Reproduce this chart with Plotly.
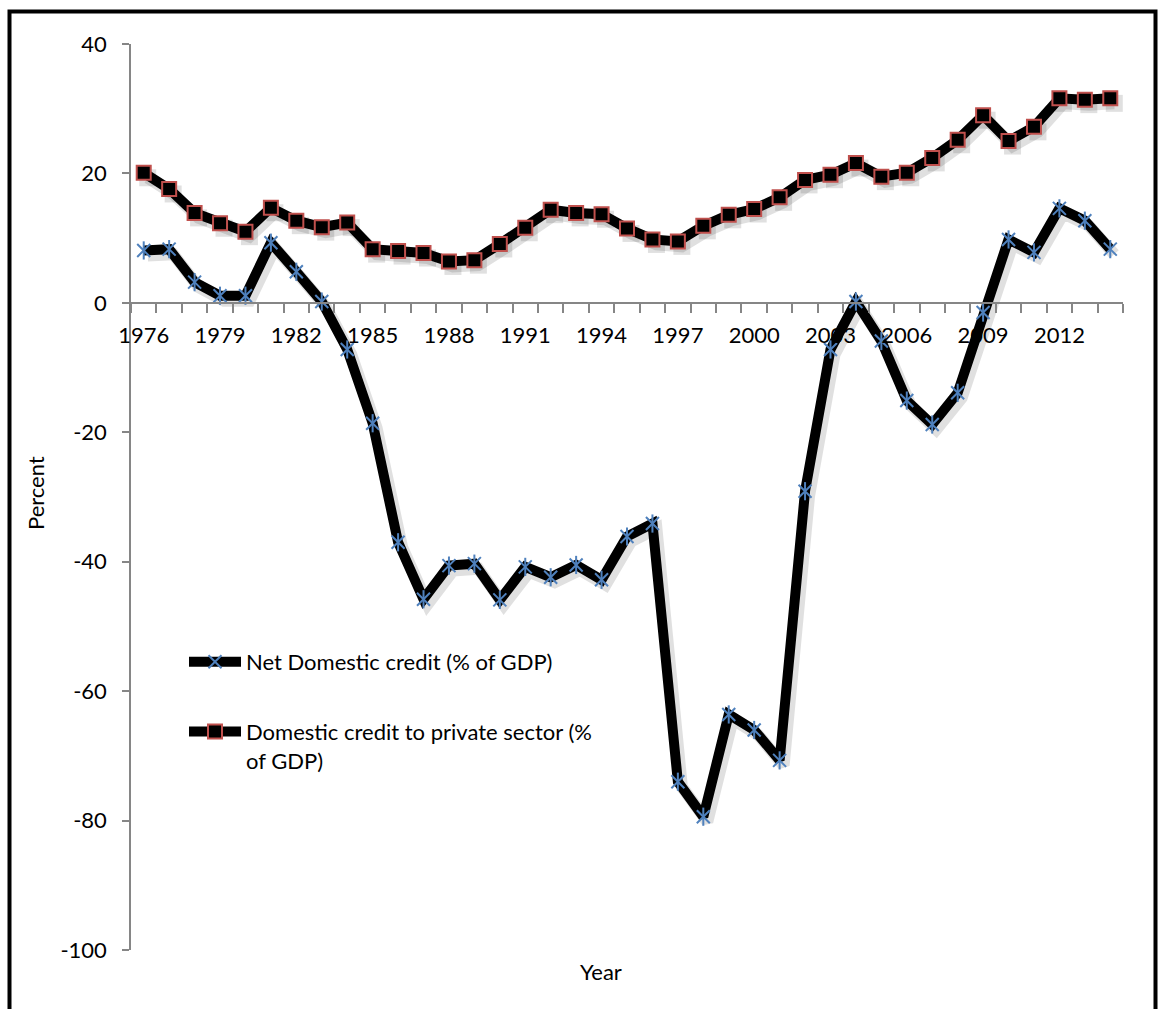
import plotly.graph_objects as go

years = list(range(1976, 2015))
net_domestic_credit = [8.1, 8.3, 3.2, 1.1, 1.1, 9.3, 4.8, 0.2, -7.2, -18.6,
                       -37.0, -45.8, -40.6, -40.3, -45.9, -40.8, -42.4, -40.5, -42.8, -36.1,
                       -34.1, -74.0, -79.4, -63.6, -66.0, -70.7, -29.1, -7.2, 0.2, -5.9,
                       -15.1, -18.8, -13.9, -1.5, 9.8, 7.8, 14.6, 12.7, 8.3]
private_credit = [20.1, 17.6, 13.9, 12.3, 11.0, 14.7, 12.7, 11.7, 12.4, 8.3,
                  8.0, 7.7, 6.4, 6.6, 9.1, 11.6, 14.4, 13.9, 13.7, 11.5,
                  9.8, 9.5, 11.9, 13.6, 14.5, 16.3, 19.0, 19.8, 21.6, 19.5,
                  20.1, 22.4, 25.2, 29.0, 25.0, 27.2, 31.6, 31.4, 31.6]
label_years = list(range(1976, 2013, 3))
y_ticks = [40, 20, 0, -20, -40, -60, -80, -100]
y_ticktext = ["40", "20", "0", "-20", "-40", "-60", "-80", "-100"]

FONT = "Lato"
GRAY = "#868686"
BLUE = "#4F81BD"
RED = "#C0504D"
SHADOW = "rgba(0,0,0,0.12)"

# body margin is removed in the page, so the figure sits at (0, 0)
OFF = 0
W, H = 1158 - OFF, 1009 - OFF
L = 131 - OFF
T = 44 - OFF
PLOT_RIGHT = 1123 - OFF
PLOT_BOTTOM = 950 - OFF
R = W - PLOT_RIGHT
B = H - PLOT_BOTTOM
pw = W - L - R
ph = H - T - B

X_RANGE = [1975.5, 2014.5]
Y_RANGE = [-100, 40]


def px_x(px):
    return (px - OFF - L) / pw


def px_y(py):
    return (PLOT_BOTTOM - (py - OFF)) / ph


# shadow offset (pixels) expressed in data units
sdx = 4 * (X_RANGE[1] - X_RANGE[0]) / pw
sdy = 5 * (Y_RANGE[1] - Y_RANGE[0]) / ph

fig = go.Figure()

# shadows (base axes, shifted range)
for series in (net_domestic_credit, private_credit):
    fig.add_trace(go.Scatter(
        x=years, y=series, showlegend=False, hoverinfo="skip", mode="lines",
        line=dict(color=SHADOW, width=12), xaxis="x", yaxis="y"))
fig.add_trace(go.Scatter(
    x=years, y=private_credit, showlegend=False, hoverinfo="skip", mode="markers",
    marker=dict(symbol="square", size=17, color=SHADOW, line=dict(width=0)), xaxis="x", yaxis="y"))

fig.add_trace(go.Scatter(
    x=years, y=net_domestic_credit, name="Net Domestic credit (% of GDP)",
    mode="lines+markers", legendgroup="a",
    line=dict(color="black", width=10),
    marker=dict(symbol="x-thin-open", size=13, color=BLUE, line=dict(color=BLUE, width=2)),
    xaxis="x2", yaxis="y2",
))
fig.add_trace(go.Scatter(
    x=years, y=net_domestic_credit, showlegend=False, hoverinfo="skip",
    mode="markers", legendgroup="a",
    marker=dict(symbol="line-ns-open", size=13, color=BLUE, line=dict(color=BLUE, width=2)),
    xaxis="x2", yaxis="y2",
))
fig.add_trace(go.Scatter(
    x=years, y=private_credit, name="Domestic credit to private sector (%<br>of GDP)",
    mode="lines+markers", legendgroup="b",
    line=dict(color="black", width=10),
    marker=dict(symbol="square", size=14, color="black", line=dict(color=RED, width=2)),
    xaxis="x2", yaxis="y2",
))

fig.update_layout(
    width=W, height=H,
    margin=dict(l=L, r=R, t=T, b=B),
    paper_bgcolor="white", plot_bgcolor="white",
    font=dict(family=FONT, size=22, color="black"),
    showlegend=True,
    legend=dict(x=px_x(184), y=px_y(641), xanchor="left", yanchor="top",
                bgcolor="rgba(0,0,0,0)", traceorder="grouped", valign="top",
                itemwidth=52,
                font=dict(family=FONT, size=22), tracegroupgap=38),
    xaxis=dict(range=[X_RANGE[0] - sdx, X_RANGE[1] - sdx], visible=False, showgrid=False, zeroline=False),
    yaxis=dict(range=[Y_RANGE[0] + sdy, Y_RANGE[1] + sdy], visible=False, showgrid=False, zeroline=False),
    xaxis2=dict(range=X_RANGE, overlaying="x", tickvals=label_years,
                ticktext=[str(y) for y in label_years],
                ticks="", showgrid=False, zeroline=False,
                showline=True, linecolor=GRAY, linewidth=1.5,
                anchor="free", position=(0 - Y_RANGE[0]) / (Y_RANGE[1] - Y_RANGE[0]),
                ticklabelstandoff=13,
                minor=dict(tick0=1975.5, dtick=1, ticks="outside", ticklen=9,
                           tickcolor=GRAY, tickwidth=1.5)),
    yaxis2=dict(range=Y_RANGE, overlaying="y", side="left", anchor="x2",
                tickvals=y_ticks, ticktext=y_ticktext,
                showgrid=False, zeroline=False,
                showline=True, linecolor=GRAY, linewidth=1.5,
                ticks="outside", ticklen=7, tickcolor=GRAY, tickwidth=1.5,
                ticklabelstandoff=11),
    shapes=[dict(type="rect", xref="paper", yref="paper",
                 x0=px_x(9.5), x1=px_x(1155.5), y0=px_y(1030), y1=px_y(11.5),
                 line=dict(color="black", width=4), fillcolor="rgba(0,0,0,0)", layer="above")],
    annotations=[
        dict(text="Percent", xref="paper", yref="paper", x=px_x(35), y=px_y(493),
             xanchor="center", yanchor="middle",
             textangle=-90, showarrow=False, font=dict(family=FONT, size=22)),
        dict(text="Year", xref="paper", yref="paper", x=px_x(601), y=px_y(972),
             xanchor="center", yanchor="middle",
             showarrow=False, font=dict(family=FONT, size=22)),
    ],
)

fig.write_html(
    "out.html",
    config={"displayModeBar": False},
    post_script="document.body.style.margin='0';document.body.style.overflow='hidden';",
)
